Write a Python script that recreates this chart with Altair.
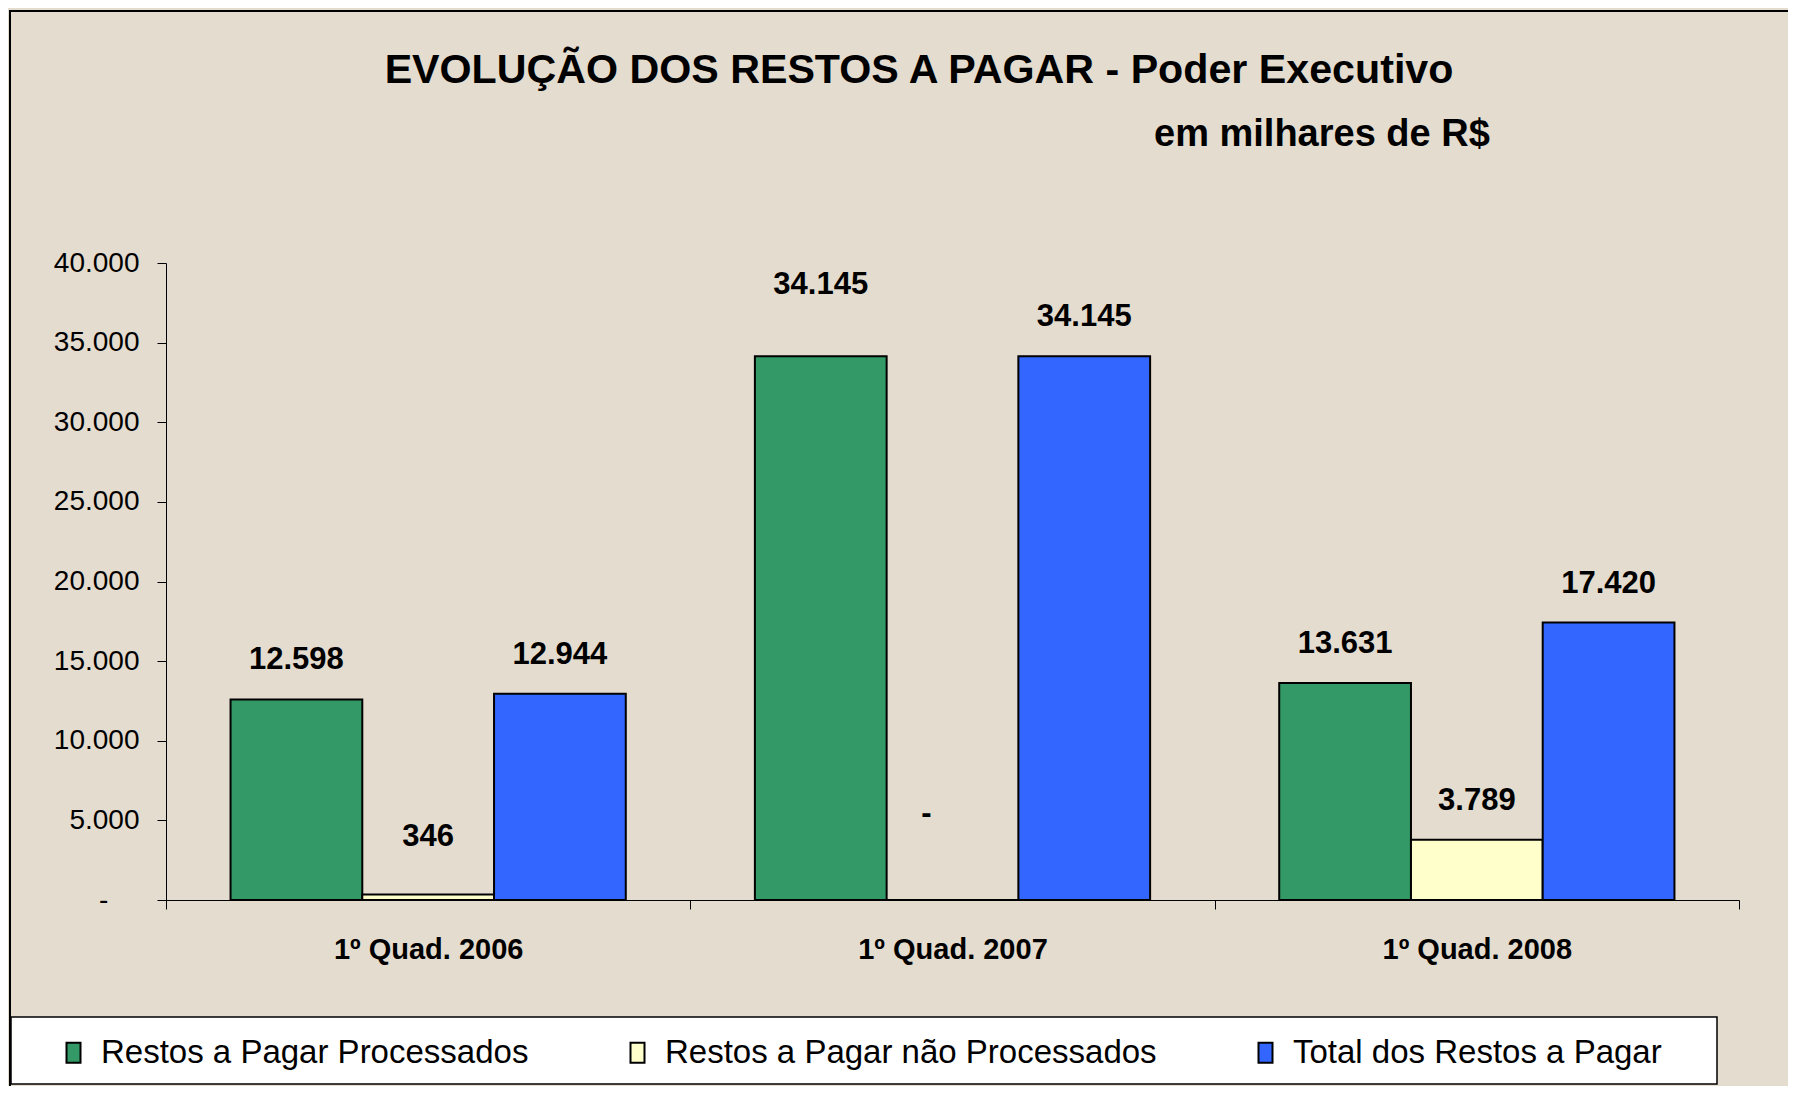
import altair as alt
import pandas as pd

# ---------------- data ----------------
quarters = ["1º Quad. 2006", "1º Quad. 2007", "1º Quad. 2008"]
series_names = [
    "Restos a Pagar Processados",
    "Restos a Pagar não Processados",
    "Total dos Restos a Pagar",
]
processados = [12598, 34145, 13631]
nao_processados = [346, 0, 3789]
total = [12944, 34145, 17420]
y_tick_values = [0, 5000, 10000, 15000, 20000, 25000, 30000, 35000, 40000]

title_text = "EVOLUÇÃO DOS RESTOS A PAGAR - Poder Executivo"
subtitle_text = "em milhares de R$"

# ---------------- style ----------------
colors = ["#339966", "#FFFFCC", "#3366FF"]
BG = "#E4DCCF"
FONT = "Liberation Sans, Arial, sans-serif"
W, H = 1573, 637
default_lift = 39
label_lift = {
    ("1º Quad. 2006", "Restos a Pagar não Processados"): 57,
    ("1º Quad. 2007", "Restos a Pagar Processados"): 71,
    ("1º Quad. 2007", "Restos a Pagar não Processados"): 86,
}
label_shift = {
    ("1º Quad. 2007", "Restos a Pagar não Processados"): -26,
}

rows = []
for i, q in enumerate(quarters):
    for s, vals in zip(series_names, [processados, nao_processados, total]):
        rows.append({"quarter": q, "series": s, "value": vals[i],
                     "lift": label_lift.get((q, s), default_lift),
                     "shift": label_shift.get((q, s), 0)})
df = pd.DataFrame(rows)

fmt_expr = "replace(format(datum.value, ','), ',', '.')"
ZERO_AXIS = "-" + "\u00a0" * 4 + "\u200b"

x_axis = alt.Axis(title=None, labelAngle=0, tickBand="extent", labelLimit=500,
                  labelFont=FONT, labelFontSize=29, labelFontWeight="bold",
                  labelColor="black", tickColor="black", tickSize=9,
                  domainColor="black", domainWidth=1, tickWidth=1,
                  labelPadding=26, zindex=1)
y_axis = alt.Axis(title=None, values=y_tick_values, grid=False,
                  labelExpr="datum.value == 0 ? '" + ZERO_AXIS + "' : " + fmt_expr,
                  labelFont=FONT, labelFontSize=28, labelColor="black",
                  tickColor="black", tickSize=9, tickWidth=1,
                  domainColor="black", domainWidth=1,
                  labelPadding=18, zindex=1)

x_enc = alt.X("quarter:N", sort=quarters,
              scale=alt.Scale(paddingInner=0, paddingOuter=0), axis=x_axis)
xo_enc = alt.XOffset("series:N", sort=series_names,
                     scale=alt.Scale(paddingInner=0, paddingOuter=0.49))
y_enc = alt.Y("value:Q", scale=alt.Scale(domain=[0, 40000], nice=False), axis=y_axis)

bars = alt.Chart(df).mark_bar(stroke="black", strokeWidth=2).encode(
    x=x_enc,
    xOffset=xo_enc,
    y=y_enc,
    color=alt.Color("series:N", sort=series_names,
                    scale=alt.Scale(domain=series_names, range=colors),
                    legend=alt.Legend(title=None, orient="none", legendX=-109, legendY=773,
                                      direction="horizontal", columns=3, columnPadding=92,
                                      symbolType="M-0.7,-1H0.7V1H-0.7Z", symbolSize=400,
                                      symbolStrokeColor="black", symbolStrokeWidth=2,
                                      labelFont=FONT, labelFontSize=33, labelColor="black",
                                      labelOffset=11, labelLimit=2000, padding=0)),
)

labels = alt.Chart(df).transform_calculate(
    label="datum.value == 0 ? '-' : " + fmt_expr
).mark_text(font=FONT, fontSize=31, fontWeight="bold", color="black",
            baseline="middle", dy=alt.ExprRef(expr="-datum.lift"),
            dx=alt.ExprRef(expr="datum.shift")).encode(
    x=x_enc,
    xOffset=xo_enc,
    y=y_enc,
    text="label:N",
)

one = pd.DataFrame({"sub": [subtitle_text], "title": [title_text]})

frame = alt.Chart(one).mark_rect(filled=False, stroke="black", strokeWidth=2).encode(
    x=alt.value(-156), x2=alt.value(1700), y=alt.value(-252), y2=alt.value(900))

legend_box = alt.Chart(one).mark_rect(fill="white", stroke="black", strokeWidth=1.5).encode(
    x=alt.value(-155), x2=alt.value(1551), y=alt.value(754), y2=alt.value(821))

title = alt.Chart(one).mark_text(font=FONT, fontSize=41.2, fontWeight="bold", color="black",
                                 align="center", baseline="alphabetic").encode(
    x=alt.value(753), y=alt.value(-180), text="title:N")

subtitle = alt.Chart(one).mark_text(font=FONT, fontSize=38, fontWeight="bold", color="black",
                                    align="left", baseline="alphabetic").encode(
    x=alt.value(988), y=alt.value(-117), text="sub:N")

chart = alt.layer(frame, legend_box, bars, labels, title, subtitle).properties(
    width=W, height=H,
    padding={"left": 158, "top": 255, "right": 49, "bottom": 186},
    autosize=alt.AutoSizeParams(type="none"),
).configure(background=BG).configure_view(stroke=None)

chart.save("out.html", embed_options={"renderer": "svg", "actions": False})
